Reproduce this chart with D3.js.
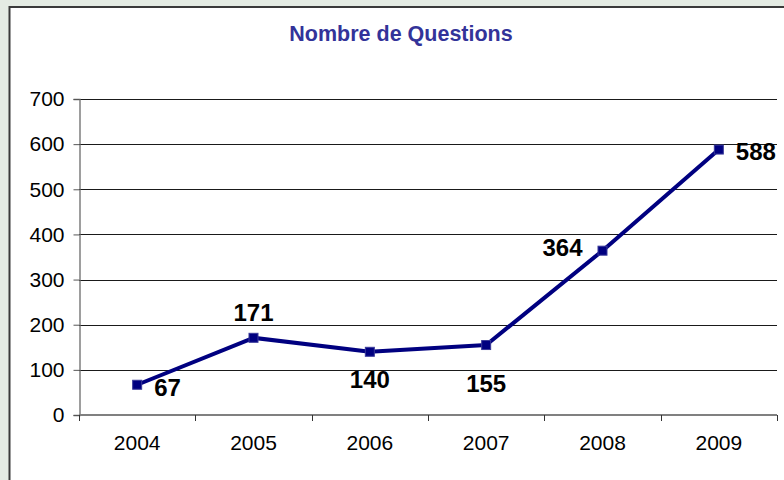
<!DOCTYPE html>
<html><head><meta charset="utf-8">
<script src="https://cdn.jsdelivr.net/npm/d3@7"></script>
<style>html,body{margin:0;padding:0;background:#e4ebe3;}svg{display:block;}</style>
</head><body>
<script>
const years = ["2004","2005","2006","2007","2008","2009"];
const questions = [67,171,140,155,364,588];
const yTicks = [0,100,200,300,400,500,600,700];
const title = "Nombre de Questions";
// label placement (style): [dx, dy, anchor]
const labelOffsets = [[17,11,"start"],[0,-17,"middle"],[0,36,"middle"],[0,47,"middle"],[-20,5,"end"],[17,10,"start"]];

const W=784,H=480;
const FONT="Liberation Sans, Arial, sans-serif";
const svg=d3.select("body").append("svg").attr("width",W).attr("height",H);
svg.append("rect").attr("x",0).attr("y",0).attr("width",W).attr("height",H).attr("fill","#e4ebe3");
svg.append("rect").attr("x",9.5).attr("y",7).attr("width",W+20).attr("height",H+20)
  .attr("fill","#fff").attr("stroke","#3a3a3a").attr("stroke-width",2);

const x=d3.scaleBand().domain(years).range([79,777]).padding(0);
const y=d3.scaleLinear().domain([0,700]).range([415,99]);

svg.append("text").attr("x",401).attr("y",41).attr("text-anchor","middle")
  .attr("font-family",FONT).attr("font-weight","bold")
  .attr("font-size",21.5).attr("fill","#333399").text(title);

// gridlines
svg.append("g").selectAll("line").data(yTicks.filter(d=>d>0)).join("line")
  .attr("x1",79).attr("x2",777).attr("y1",d=>Math.round(y(d))+0.5).attr("y2",d=>Math.round(y(d))+0.5)
  .attr("stroke","#1a1a1a").attr("stroke-width",1);

// y axis
const ya=svg.append("g").attr("transform","translate(79.5,0)")
  .call(d3.axisLeft(y).tickValues(yTicks).tickSize(6).tickPadding(9));
ya.select(".domain").attr("stroke","#6a6a6a").attr("stroke-width",1.3);
ya.selectAll(".tick line").attr("stroke","#555");
ya.selectAll("text").attr("font-family",FONT).attr("font-size",21).attr("fill","#000");

// x axis
const xa=svg.append("g").attr("transform","translate(0,415)")
  .call(d3.axisBottom(x).tickSize(0).tickPadding(20));
xa.select(".domain").remove();
xa.selectAll("text").attr("font-family",FONT).attr("font-size",21).attr("fill","#000");
svg.append("line").attr("x1",79).attr("x2",777).attr("y1",415).attr("y2",415).attr("stroke","#808080").attr("stroke-width",2);
const bounds=years.map(d=>x(d)).concat([x.range()[1]]);
svg.append("g").selectAll("line").data(bounds).join("line")
  .attr("x1",d=>Math.round(d)+0.5).attr("x2",d=>Math.round(d)+0.5).attr("y1",415).attr("y2",421)
  .attr("stroke","#333").attr("stroke-width",1);

// line
const pts=years.map((d,i)=>[x(d)+x.bandwidth()/2,y(questions[i])]);
svg.append("path").datum(pts).attr("d",d3.line()).attr("fill","none")
  .attr("stroke","#000080").attr("stroke-width",4).attr("stroke-linejoin","round");
svg.append("g").selectAll("rect").data(pts).join("rect")
  .attr("x",d=>d[0]-4.5).attr("y",d=>d[1]-4.5).attr("width",9).attr("height",9)
  .attr("fill","#000080").attr("stroke","#3a3a9a").attr("stroke-width",1);

// labels
svg.append("g").selectAll("text").data(pts).join("text")
  .attr("x",(d,i)=>d[0]+labelOffsets[i][0]).attr("y",(d,i)=>d[1]+labelOffsets[i][1])
  .attr("text-anchor",(d,i)=>labelOffsets[i][2])
  .attr("font-family",FONT).attr("font-weight","bold")
  .attr("font-size",24).attr("fill","#000").text((d,i)=>questions[i]);
</script>
</body></html>
